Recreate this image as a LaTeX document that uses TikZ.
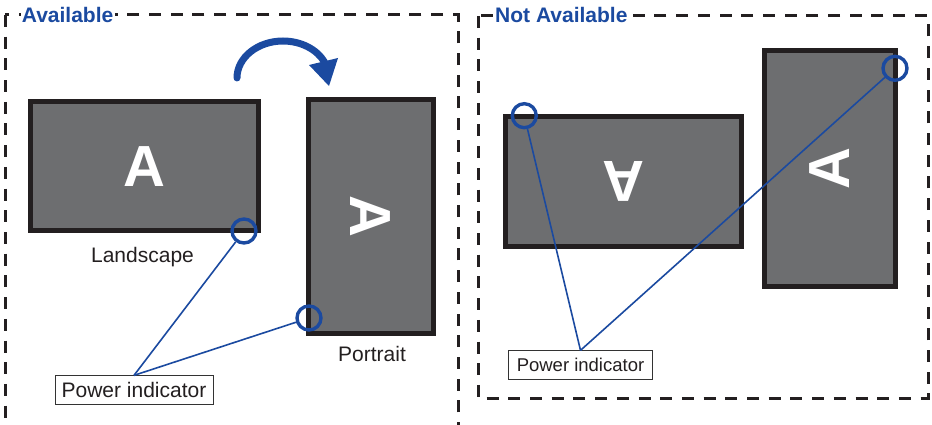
\documentclass[tikz,border=0pt]{standalone}
\usepackage{fontspec}
\setmainfont{Liberation Sans}
\usetikzlibrary{positioning}
\definecolor{ledblue}{HTML}{1B4AA0}
\definecolor{bezel}{HTML}{231F20}
\definecolor{panel}{HTML}{6D6E70}

\begin{document}
\begin{tikzpicture}[x=1pt,y=-1pt,
  screen/.style={draw=bezel,fill=panel,line width=5pt,inner sep=0pt,text=white,
    font=\fontsize{58}{58}\selectfont\bfseries},
  led/.style={draw=ledblue,line width=3.4pt,circle,inner sep=0pt,minimum size=24pt},
  callout/.style={draw=black!80,line width=0.8pt,fill=white,text=bezel,minimum height=28.5pt,inner ysep=0pt},
  pointer/.style={draw=ledblue,line width=1.6pt},
  frame/.style={draw=bezel,line width=3pt,dash pattern=on 12pt off 9.7pt},
  heading/.style={fill=white,text=ledblue,inner sep=1.2pt,anchor=base west,
    font=\fontsize{21}{25}\selectfont\bfseries},
  caption/.style={text=bezel,anchor=base,font=\fontsize{21}{25}\selectfont}]
	%% page size
	\useasboundingbox (0,0) rectangle (932,425);

	\def\longside{228} % long side of a screen
	\def\shortside{129} % short side of a screen

	% dashed frames
	\draw[frame] (5,15) rectangle (458,432);
	\draw[frame] (478,16) rectangle (928,398);
	\node[heading] (okhead) at (20.5,22.7) {Available};
	\node[heading] (nohead) at (493.8,22.7) {Not Available};

	%% available side
	\node[screen,minimum width=\longside,minimum height=\shortside] (land) at (144.5,166.2) {A};
	\node[screen,minimum width=234,minimum height=125,rotate=-90] (port) at (370.7,216.7) {A};
	\node[caption] (landtext) at (142.5,262) {Landscape};
	\node[caption] (porttext) at (372,361) {Portrait};

	% turning arrow
	\draw[ledblue,line width=7pt,line cap=round] (237,78) arc[start angle=180,end angle=335,x radius=46,y radius=37];
	\fill[ledblue] (329,86) -- (309,65) -- (338,58) -- cycle;

	\node[led] (ledL) at (244,231) {};
	\node[led] (ledP) at (309,318) {};
	\node[callout,inner xsep=6.6pt,font=\fontsize{21}{25}\selectfont] (tagA) at (134,390) {Power indicator};
	\draw[pointer] (tagA.north) -- (ledL);
	\draw[pointer] (tagA.north) -- (ledP);

	%% not available side
	\node[screen,minimum width=235.7,minimum height=129.7,rotate=180] (flip) at (623.7,181.3) {A};
	\node[screen,minimum width=236.3,minimum height=130.4,rotate=90] (side) at (830,168.4) {A};

	\node[led] (ledF) at (524.3,115.7) {};
	\node[led] (ledS) at (895,68.3) {};
	\node[callout,inner xsep=8.5pt,font=\fontsize{18.5}{22}\selectfont] (tagN) at (580.5,365) {Power indicator};
	\draw[pointer] (tagN.north) -- (ledF);
	\draw[pointer] (tagN.north) -- (ledS);

\end{tikzpicture}
\end{document}
